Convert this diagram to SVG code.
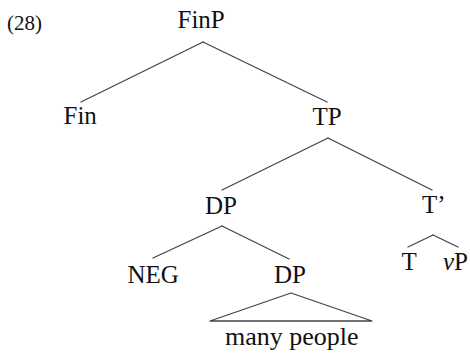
<svg xmlns="http://www.w3.org/2000/svg" width="470" height="353" viewBox="0 0 470 353">
  <rect width="470" height="353" fill="#fff"/>

  <!-- branches share one stroke look, set on the group -->
  <g id="connectors" stroke="#444" stroke-width="1.3" fill="none" stroke-linecap="round" stroke-linejoin="round">
    <line x1="203" y1="42" x2="81" y2="102"/>
    <line x1="203" y1="42" x2="327" y2="102"/>
    <line x1="328" y1="138" x2="222" y2="190"/>
    <line x1="328" y1="138" x2="432" y2="190"/>
    <line x1="222" y1="226" x2="153" y2="258"/>
    <line x1="222" y1="226" x2="289" y2="259"/>
    <line x1="433" y1="235" x2="408" y2="247"/>
    <line x1="433" y1="235" x2="458" y2="247"/>
    <polygon points="291,293 210,321 372,321"/>
  </g>

  <!-- node labels; x values are left edges so each label sits centred over its branch -->
  <g fill="#111" font-family="Liberation Serif">
    <text x="7" y="30" font-size="21">(28)</text>
    <g id="FinP"><text x="177.5" y="28" font-size="25">FinP</text></g>
    <g id="Fin"><text x="63.5" y="124" font-size="25">Fin</text></g>
    <g id="TP"><text x="312.5" y="125" font-size="25">TP</text></g>
    <g id="DP-upper"><text x="205" y="214" font-size="25">DP</text></g>
    <g id="Tbar"><text x="422" y="213" font-size="25">T’</text></g>
    <g id="NEG"><text x="127.5" y="283" font-size="25">NEG</text></g>
    <g id="DP-lower"><text x="274" y="283" font-size="25">DP</text></g>
    <g id="T"><text x="401.5" y="270" font-size="25">T</text></g>
    <g id="vP"><text x="443" y="270" font-size="25"><tspan font-style="italic">v</tspan>P</text></g>
    <g id="leaf"><text x="225" y="345" font-size="26">many people</text></g>
  </g>
</svg>
